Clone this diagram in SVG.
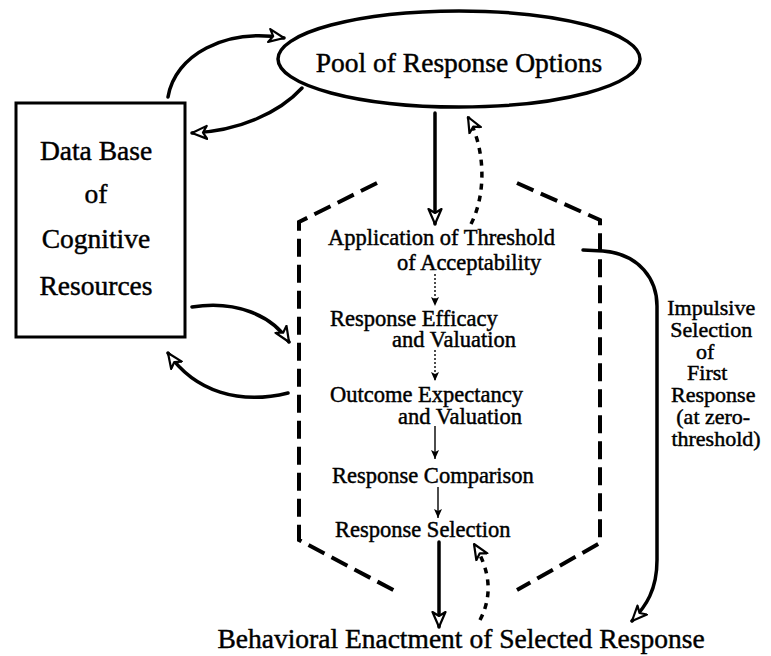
<svg xmlns="http://www.w3.org/2000/svg" width="771" height="656" viewBox="0 0 771 656">
<style>
.t{font-family:"Liberation Serif","Times New Roman",serif;fill:#000;stroke:#000;stroke-width:0.45}
.big{font-size:27.5px}
.mid{font-size:22.5px}
.lab{font-size:22px}
.ln{fill:none;stroke:#000;stroke-width:3.5;stroke-linecap:round}
.hex{fill:none;stroke:#000;stroke-width:4;stroke-dasharray:18 8}
.dot{fill:none;stroke:#000;stroke-width:3.5;stroke-dasharray:6 6}
.thin{fill:none;stroke:#000;stroke-width:1.4}
.thind{fill:none;stroke:#000;stroke-width:1.4;stroke-dasharray:2 2}
</style>
<defs>
<marker id="ah" markerUnits="userSpaceOnUse" markerWidth="18" markerHeight="16" viewBox="0 0 18 16" refX="16" refY="8" orient="auto">
<path d="M1,1.5 L16,8 L1,14.5 L5,8 z" fill="#fff" stroke="#000" stroke-width="2.2" stroke-linejoin="round"/>
</marker>
<marker id="sh" markerUnits="userSpaceOnUse" markerWidth="10" markerHeight="10" viewBox="0 0 10 10" refX="9" refY="5" orient="auto">
<path d="M0,1 L9,5 L0,9 L2,5 z" fill="#000"/>
</marker>
</defs>
<rect width="771" height="656" fill="#fff"/>

<g id="connectors">
<path class="ln" d="M168,97 C175,55 225,28 284,38" marker-end="url(#ah)"/>
<path class="ln" d="M302,88 C280,112 240,131 192,133" marker-end="url(#ah)"/>
<path class="ln" d="M192,307 C235,300 272,315 289,342" marker-end="url(#ah)"/>
<path class="ln" d="M288,393 C240,405 195,392 168,353" marker-end="url(#ah)"/>
<path class="ln" d="M435,113 L435,224" marker-end="url(#ah)"/>
<path class="dot" d="M471,224 C486,195 486,150 468,117" marker-end="url(#ah)"/>
<path class="thind" d="M435,274 L435,306" marker-end="url(#sh)"/>
<path class="thind" d="M435,350 L435,381" marker-end="url(#sh)"/>
<path class="thin" d="M435,426 L435,459" marker-end="url(#sh)"/>
<path class="thin" d="M438,487 L438,518" marker-end="url(#sh)"/>
<path class="ln" d="M439,542 L439,627" marker-end="url(#ah)"/>
<path class="dot" d="M480,620 C493,595 490,570 474,544" marker-end="url(#ah)"/>
<path class="ln" d="M583,250 L603,251 C640,254 657,280 657,306 L657,560 C657,590 646,606 632,621" marker-end="url(#ah)"/>
</g>

<g id="pool">
<ellipse cx="459" cy="59" rx="181" ry="48" fill="none" stroke="#000" stroke-width="3.5"/>
<text class="t big" x="459" y="72" text-anchor="middle">Pool of Response Options</text>
</g>

<g id="database">
<rect x="16" y="103" width="169" height="234" fill="none" stroke="#000" stroke-width="3"/>
<text class="t big" x="96" y="160" text-anchor="middle">Data Base</text>
<text class="t big" x="96" y="203" text-anchor="middle">of</text>
<text class="t big" x="96" y="248" text-anchor="middle">Cognitive</text>
<text class="t big" x="96" y="295" text-anchor="middle">Resources</text>
</g>

<g id="process">
<path class="hex" d="M377,183 L299,222 L299,540 L397,592"/>
<path class="hex" d="M517,183 L600,220 L600,543 L517,590"/>
<text class="t mid" x="328" y="245">Application of Threshold</text>
<text class="t mid" x="397" y="270">of Acceptability</text>
<text class="t mid" x="330" y="326">Response Efficacy</text>
<text class="t mid" x="392" y="347">and Valuation</text>
<text class="t mid" x="330" y="402">Outcome Expectancy</text>
<text class="t mid" x="398" y="424">and Valuation</text>
<text class="t mid" x="332" y="483">Response Comparison</text>
<text class="t mid" x="335" y="537">Response Selection</text>
</g>

<g id="impulsive-label">
<text class="t lab" text-anchor="middle">
<tspan x="714" y="315">Impulsive</tspan>
<tspan x="714" y="337">Selection</tspan>
<tspan x="708" y="359">of</tspan>
<tspan x="710" y="380">First</tspan>
<tspan x="716" y="402">Response</tspan>
<tspan x="716" y="424">(at zero-</tspan>
<tspan x="716" y="446">threshold)</tspan>
</text>
</g>

<g id="enactment">
<text class="t big" x="461" y="648" text-anchor="middle">Behavioral Enactment of Selected Response</text>
</g>
</svg>
